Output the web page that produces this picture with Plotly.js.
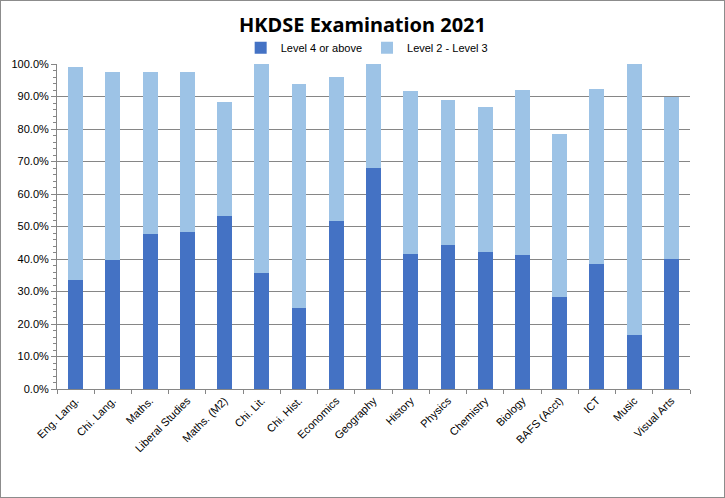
<!DOCTYPE html>
<html>
<head>
<meta charset="utf-8">
<script src="https://cdn.plot.ly/plotly-3.0.1.min.js"></script>
<style>
html,body{margin:0;padding:0;background:#fff;}
#chart{width:723px;height:496px;border:1px solid #8c8c8c;}
</style>
</head>
<body>
<div id="chart"></div>
<script>
const subjects = ["Eng. Lang.","Chi. Lang.","Maths.","Liberal Studies","Maths. (M2)","Chi. Lit.","Chi. Hist.","Economics","Geography","History","Physics","Chemistry","Biology","BAFS (Acct)","ICT","Music","Visual Arts"];
const level4Above = [0.336,0.398,0.478,0.484,0.531,0.358,0.250,0.518,0.681,0.416,0.444,0.423,0.413,0.284,0.385,0.167,0.400];
const level2to3 = [0.656,0.578,0.498,0.492,0.353,0.642,0.689,0.443,0.319,0.502,0.446,0.446,0.508,0.501,0.539,0.833,0.499];

const traces = [
  {type:'bar', name:'Level 4 or above', x:subjects, y:level4Above, marker:{color:'#4472C4'}, hoverinfo:'x+y'},
  {type:'bar', name:'Level 2 - Level 3', x:subjects, y:level2to3, marker:{color:'#9DC3E6'}, hoverinfo:'x+y'}
];

const layout = {
  width:723, height:496,
  margin:{l:56, r:34, t:63, b:108},
  paper_bgcolor:'#fff', plot_bgcolor:'#fff',
  barmode:'stack', bargap:0.6,
  font:{family:'Liberation Sans, Arial, sans-serif', size:11, color:'#000'},
  title:{text:'<b>HKDSE Examination 2021</b>', font:{family:'Noto Sans, sans-serif', size:20, color:'#000'}, x:0.5, xref:'container', xanchor:'center', y:0.952, yref:'container', yanchor:'middle'},
  showlegend:true,
  legend:{orientation:'h', x:0.49, xanchor:'center', y:1.05, yanchor:'middle', font:{size:11}, itemwidth:30, traceorder:'normal', bgcolor:'rgba(0,0,0,0)'},
  xaxis:{type:'category', tickangle:-45, showline:true, linecolor:'#868686', linewidth:1, ticks:'outside', tickson:'boundaries', ticklen:4, tickcolor:'#868686', showgrid:false, tickfont:{size:11}, automargin:false},
  yaxis:{range:[0,1], dtick:0.1, tickformat:'.1%', showline:true, linecolor:'#868686', linewidth:1, ticks:'outside', ticklen:5, tickcolor:'#868686', showgrid:true, gridcolor:'#868686', gridwidth:1, zeroline:false, tickfont:{size:11}, automargin:false,
    minor:{dtick:0.02, ticks:'outside', ticklen:3, tickcolor:'#868686', showgrid:false}}
};

Plotly.newPlot('chart', traces, layout, {displayModeBar:false, staticPlot:true});
</script>
</body>
</html>
